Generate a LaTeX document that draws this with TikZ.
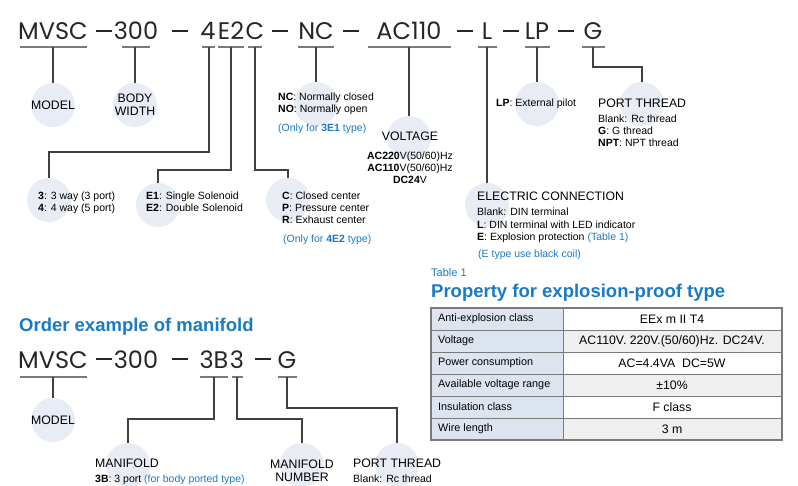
\documentclass[tikz,border=0pt]{standalone}
\usepackage{fontspec}
\setmainfont{Liberation Sans}
\newfontfamily\codefont{Poppins}
\usepackage{xcolor}
\usetikzlibrary{calc}
\definecolor{dotfill}{HTML}{E8ECF4}
\definecolor{linegray}{HTML}{7A7A7A}
\definecolor{labelblue}{HTML}{1A7AC4}
\definecolor{headfill}{HTML}{DCE4F0}
\definecolor{rowgray}{HTML}{EFEFEF}

\tikzset{
	code/.style = {anchor=base, inner sep=0, font=\codefont\fontsize{24}{26}\selectfont, text=black!85},
	codedash/.style = {draw=black!85, line width=1.6pt},
	uline/.style = {draw=linegray, line width=1.6pt},
	lead/.style = {draw=black!75, line width=1.2pt},
	dot/.style = {circle, fill=dotfill, minimum size=44pt, inner sep=0},
	small/.style = {anchor=base west, inner sep=0, font=\fontsize{10.5}{12}\selectfont},
	head/.style = {anchor=base west, inner sep=0, font=\fontsize{12.3}{14}\selectfont},
	blue/.style = {text=labelblue},
	title/.style = {anchor=base west, inner sep=0, text=labelblue, font=\bfseries\fontsize{18.5}{20}\selectfont},
}
\newcommand{\bx}[1]{\textbf{#1}}

\begin{document}
\begin{tikzpicture}[x=1pt, y=-1pt]
	\useasboundingbox (0,0) rectangle (798,486);
	% top code
	\foreach \t/\c/\n in {MVSC/53/ta, 300/136/tb, 4/208/tc, E2/231/td, C/255/te, NC/316/tf, AC110/409/tg, L/487/th, LP/537/ti, G/593/tj}
		\node[code] (\n) at (\c,40) {\t};
	\foreach \c in {104,180,280,351,465,511,566}
		\draw[codedash] (\c-8,31) -- (\c+8,31);
	\foreach \a/\b in {20/87, 122/150, 202/215, 218/244, 248/262, 298/334, 368/451, 478/497, 525/550, 582/605}
		\draw[uline] (\a,47) -- (\b,47);
	% circles
	\foreach \n/\x/\y in {cmodel/53/105, cwidth/135/105, cway/49/200, csol/158/205, ccen/288/200, cnc/316/104, cvolt/409/138, celec/487/205, cpilot/537/104, cport/642/104}
		\node[dot] (\n) at (\x,\y) {};
	\draw[lead] (53,47) -- (cmodel);
	\draw[lead] (135,47) -- (cwidth);
	\draw[lead] (209,47) |- (49,152) -- (cway);
	\draw[lead] (231,47) |- (158,170) -- (csol);
	\draw[lead] (255,47) |- (288,170) -- (ccen);
	\draw[lead] (316,47) -- (cnc);
	\draw[lead] (409,47) -- (cvolt);
	\draw[lead] (487,47) -- (celec);
	\draw[lead] (537,47) -- (cpilot);
	\draw[lead] (593,47) |- (642,67) -- (cport);
	% top labels
	\node[font=\fontsize{12.3}{13}\selectfont] at (53,105) {MODEL};
	\node[font=\fontsize{12.3}{13}\selectfont, align=center] at (135,105) {BODY\\WIDTH};
	\node[small] at (38,200) {\bx{3}: 3 way (3 port)};
	\node[small] at (38,212) {\bx{4}: 4 way (5 port)};
	\node[small] at (146,200) {\bx{E1}: Single Solenoid};
	\node[small] at (146,212) {\bx{E2}: Double Solenoid};
	\node[small] at (282,200) {\bx{C}: Closed center};
	\node[small] at (282,212) {\bx{P}: Pressure center};
	\node[small] at (282,224) {\bx{R}: Exhaust center};
	\node[small, blue] at (283,243) {(Only for \bx{4E2} type)};
	\node[small] at (278,101) {\bx{NC}: Normally closed};
	\node[small] at (278,113) {\bx{NO}: Normally open};
	\node[small, blue] at (278,132) {(Only for \bx{3E1} type)};
	\node[head, anchor=base] at (410,141) {VOLTAGE};
	\node[small, anchor=base] at (410,160) {\bx{AC220}V(50/60)Hz};
	\node[small, anchor=base] at (410,172) {\bx{AC110}V(50/60)Hz};
	\node[small, anchor=base] at (410,184) {\bx{DC24}V};
	\node[head] at (477,201) {ELECTRIC CONNECTION};
	\node[small] at (477,216) {Blank: DIN terminal};
	\node[small] at (477,229) {\bx{L}: DIN terminal with LED indicator};
	\node[small] at (477,241) {\bx{E}: Explosion protection \textcolor{labelblue}{(Table 1)}};
	\node[small, blue] at (478,258) {(E type use black coil)};
	\node[small] at (496,107) {\bx{LP}: External pilot};
	\node[head] at (598,108) {PORT THREAD};
	\node[small] at (598,123) {Blank: Rc thread};
	\node[small] at (598,135) {\bx{G}: G thread};
	\node[small] at (598,147) {\bx{NPT}: NPT thread};
	% manifold example
	\node[title] at (19,331) {Order example of manifold};
	\foreach \t/\c/\n in {MVSC/53/ma, 300/136/mb, 3B/214/mc, 3/237/md, G/287/me}
		\node[code] (\n) at (\c,368) {\t};
	\foreach \c in {104,180,263}
		\draw[codedash] (\c-8,359) -- (\c+8,359);
	\foreach \a/\b in {20/87, 200/228, 232/243, 278/297}
		\draw[uline] (\a,377) -- (\b,377);
	\foreach \n/\x/\y in {mmodel/53/420, mmani/128/465, mnum/302/465, mport/397/465}
		\node[dot] (\n) at (\x,\y) {};
	\draw[lead] (53,377) -- (mmodel);
	\draw[lead] (214,377) |- (128,419) -- (mmani);
	\draw[lead] (237,377) |- (302,419) -- (mnum);
	\draw[lead] (287,377) |- (397,408) -- (mport);
	\node[font=\fontsize{12.3}{13}\selectfont] at (53,420) {MODEL};
	\node[head] at (95,467) {MANIFOLD};
	\node[small] at (95,482) {\bx{3B}: 3 port \textcolor{labelblue}{(for body ported type)}};
	\node[font=\fontsize{12.3}{13}\selectfont, align=center, inner sep=0] at (302,471) {MANIFOLD\\NUMBER};
	\node[head] at (353,467) {PORT THREAD};
	\node[small] at (353,482) {Blank: Rc thread};
	% table
	\node[small, blue, font=\fontsize{11}{12}\selectfont] at (431,277) {Table 1};
	\node[title] at (431,298) {Property for explosion-proof type};
	\foreach \k/\l/\r in {0/Anti-explosion class/EEx m II T4, 1/Voltage/{AC110V. 220V.(50/60)Hz. DC24V.}, 2/Power consumption/AC=4.4VA\ \ DC=5W, 3/Available voltage range/±10\%, 4/Insulation class/F class, 5/Wire length/3 m}{
		\pgfmathsetmacro{\top}{308+22*\k}
		\pgfmathsetmacro{\odd}{mod(\k,2)}
		\fill[headfill] (431,\top) rectangle (563,\top+22);
		\ifdim\odd pt>0.5pt \fill[rowgray] (563,\top) rectangle (782,\top+22); \fi
		\node[small, font=\fontsize{10.8}{12}\selectfont, anchor=west] at (438,\top+11) {\l};
		\node[font=\fontsize{12.3}{13}\selectfont, inner sep=0] at (672,\top+11) {\r};
	}
	\foreach \k in {1,...,5}
		\draw[draw=linegray, line width=0.8pt] (431,308+22*\k) -- (782,308+22*\k);
	\draw[draw=linegray, line width=0.8pt] (563,308) -- (563,440);
	\draw[draw=linegray, line width=1.2pt] (431,308) rectangle (782,440);
\end{tikzpicture}
\end{document}
